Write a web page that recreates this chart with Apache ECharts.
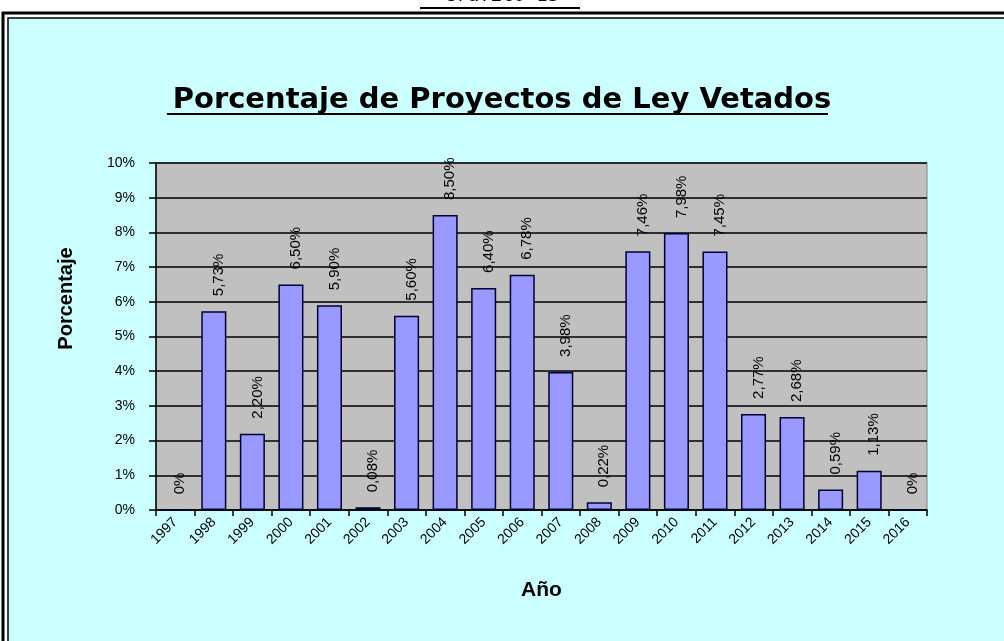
<!DOCTYPE html>
<html>
<head>
<meta charset="utf-8">
<script src="https://cdn.jsdelivr.net/npm/echarts@6/dist/echarts.min.js"></script>
<style>
  html, body { margin: 0; padding: 0; background: #ffffff; }
  #main { width: 1004px; height: 641px; }
</style>
</head>
<body>
<div id="main"></div>
<script>
// años (eje X)
const years = ['1997', '1998', '1999', '2000', '2001', '2002', '2003', '2004', '2005', '2006',
  '2007', '2008', '2009', '2010', '2011', '2012', '2013', '2014', '2015', '2016'];
// porcentaje de proyectos vetados
const vetoed = [0, 5.73, 2.20, 6.50, 5.90, 0.08, 5.60, 8.50, 6.40, 6.78,
  3.98, 0.22, 7.46, 7.98, 7.45, 2.77, 2.68, 0.59, 1.13, 0];
// eje Y
const yTicks = [0, 1, 2, 3, 4, 5, 6, 7, 8, 9, 10];

const myChart = echarts.init(document.getElementById('main'), null, { renderer: 'canvas' });

const fmtPct = v => v === 0 ? '0%' : v.toFixed(2).replace('.', ',') + '%';

const option = {
  backgroundColor: '#ffffff',
  animation: false,
  title: {
    text: 'Porcentaje de Proyectos de Ley Vetados',
    left: 'center',
    top: 81,
    textStyle: {
      fontFamily: 'DejaVu Sans',
      fontWeight: 'bold',
      fontSize: 29,
      color: '#000'
    }
  },
  graphic: [
    // marco doble
    { type: 'rect', z: -10, shape: { x: 3, y: 13, width: 1020, height: 660 },
      style: { fill: '#ffffff', stroke: '#000', lineWidth: 3 } },
    { type: 'rect', z: -9, shape: { x: 8, y: 18, width: 1010, height: 650 },
      style: { fill: '#ccffff', stroke: '#000', lineWidth: 1.5 } },
    // subrayado del titulo
    { type: 'line', shape: { x1: 167, y1: 114, x2: 828, y2: 114 },
      style: { stroke: '#000', lineWidth: 2 } },
    // "Grafico 13" cortado arriba
    { type: 'text', left: 'center', top: -13,
      style: { text: 'Gráfico 13', font: '19px "DejaVu Sans Mono"', fill: '#000' } },
    { type: 'line', shape: { x1: 420, y1: 8, x2: 580, y2: 8 },
      style: { stroke: '#000', lineWidth: 2 } }
  ],
  grid: {
    left: 156,
    right: 77,
    top: 163,
    bottom: 131,
    show: true,
    backgroundColor: '#c0c0c0',
    borderColor: '#808080',
    borderWidth: 1
  },
  xAxis: {
    type: 'category',
    data: years,
    name: 'Año',
    nameLocation: 'middle',
    nameGap: 70,
    nameTextStyle: { fontFamily: 'Liberation Sans', fontWeight: 'bold', fontSize: 21, color: '#000' },
    axisLine: { lineStyle: { color: '#000', width: 1.5 } },
    axisTick: { show: true, length: 6, lineStyle: { color: '#000', width: 1.5 } },
    axisLabel: {
      rotate: 45,
      margin: 10,
      fontFamily: 'Liberation Sans',
      fontSize: 14,
      color: '#000'
    }
  },
  yAxis: {
    type: 'value',
    min: 0,
    max: 10,
    interval: 1,
    name: 'Porcentaje',
    nameLocation: 'middle',
    nameGap: 80,
    nameTextStyle: { fontFamily: 'Liberation Sans', fontWeight: 'bold', fontSize: 20, color: '#000', padding: [0, 0, 0, 76] },
    axisLine: { show: true, lineStyle: { color: '#000', width: 1.5 } },
    axisTick: { show: true, length: 7, lineStyle: { color: '#000', width: 1.5 } },
    axisLabel: {
      margin: 21,
      fontFamily: 'Liberation Sans',
      fontSize: 14,
      color: '#000',
      formatter: v => yTicks.includes(v) ? v + '%' : ''
    },
    splitLine: { show: true, lineStyle: { color: '#000', width: 1.5 } }
  },
  series: [
    {
      type: 'bar',
      data: vetoed,
      barCategoryGap: '35%',
      itemStyle: { color: '#9999ff', borderColor: '#000033', borderWidth: 1.5 },
      label: {
        show: true,
        position: 'top',
        rotate: 90,
        distance: 15,
        align: 'left',
        verticalAlign: 'middle',
        offset: [0, 5],
        fontFamily: 'Liberation Sans',
        fontSize: 15,
        color: '#000',
        formatter: p => fmtPct(p.value)
      }
    }
  ]
};

option && myChart.setOption(option);
</script>
</body>
</html>
